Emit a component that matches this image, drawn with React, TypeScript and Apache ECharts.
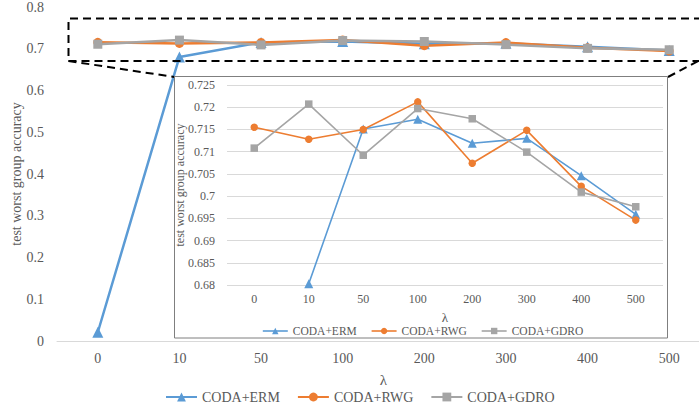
import React, { useEffect, useRef } from "react";
import * as echarts from "echarts";

const categories = ["0", "10", "50", "100", "200", "300", "400", "500"];
const seriesNames = ["CODA+ERM", "CODA+RWG", "CODA+GDRO"];
const ermValues = [0.021, 0.6803, 0.7151, 0.7173, 0.7119, 0.713, 0.7046, 0.6959];
const rwgValues = [0.7155, 0.7128, 0.715, 0.7212, 0.7074, 0.7148, 0.7022, 0.6946];
const gdroValues = [0.7108, 0.7207, 0.7092, 0.7197, 0.7174, 0.7099, 0.7009, 0.6976];
const mainYMin = 0;
const mainYMax = 0.8;
const mainYStep = 0.1;
const insetYMin = 0.68;
const insetYMax = 0.725;
const insetYStep = 0.005;

const colors = ["#5B9BD5", "#ED7D31", "#A5A5A5"];
const symbols = ["triangle", "circle", "rect"];
const FONT = "Liberation Serif";
const TXT = "#595959";

export default function App() {
  const ref = useRef<HTMLDivElement>(null);
  useEffect(() => {
    if (!ref.current) return;
    const chart = echarts.init(ref.current, undefined, { renderer: "svg" });
    const allValues = [ermValues, rwgValues, gdroValues];
    const mainSeries = allValues.map((vals, i) => ({
      name: seriesNames[i],
      type: "line",
      xAxisIndex: 0,
      yAxisIndex: 0,
      data: vals,
      symbol: symbols[i],
      symbolSize: i === 0 ? 11 : 9,
      lineStyle: { width: 2.5, color: colors[i] },
      itemStyle: { color: colors[i] },
      z: 2,
    }));
    const insetSeries = allValues.map((vals, i) => ({
      name: seriesNames[i],
      type: "line",
      xAxisIndex: 1,
      yAxisIndex: 1,
      data: vals.map((v) => (v < insetYMin ? null : v)),
      symbol: symbols[i],
      symbolSize: i === 0 ? 9 : 7.5,
      lineStyle: { width: 1.6, color: colors[i] },
      itemStyle: { color: colors[i] },
      z: 21,
    }));
    chart.setOption({
      animation: false,
      backgroundColor: "#fff",
      color: colors,
      textStyle: { fontFamily: FONT },
      grid: [
        { left: 57, top: 7, right: -11, height: 334, outerBoundsMode: "none", containLabel: false },
        { left: 227, top: 85, width: 436, height: 200, z: 20, outerBoundsMode: "none", containLabel: false },
      ],
      xAxis: [
        {
          type: "category",
          gridIndex: 0,
          data: categories,
          boundaryGap: true,
          axisLine: { show: true, lineStyle: { color: "#d9d9d9", width: 1 } },
          axisTick: { show: false },
          axisLabel: { color: TXT, fontFamily: FONT, fontSize: 14, margin: 10 },
          name: "λ",
          nameLocation: "middle",
          nameGap: 31,
          nameMoveOverlap: false,
          nameTextStyle: { color: TXT, fontFamily: FONT, fontSize: 15 },
        },
        {
          type: "category",
          gridIndex: 1,
          data: categories,
          boundaryGap: true,
          axisLine: { show: false },
          axisTick: { show: false },
          axisLabel: { color: TXT, fontFamily: FONT, fontSize: 12, margin: 8 },
          name: "λ",
          nameLocation: "middle",
          nameGap: 26,
          nameMoveOverlap: false,
          nameTextStyle: { color: TXT, fontFamily: FONT, fontSize: 13 },
          z: 20,
        },
      ],
      yAxis: [
        {
          type: "value",
          gridIndex: 0,
          min: mainYMin,
          max: mainYMax,
          interval: mainYStep,
          axisLine: { show: false },
          axisTick: { show: false },
          splitLine: { show: false },
          axisLabel: { color: TXT, fontFamily: FONT, fontSize: 14, margin: 13 },
          name: "test worst group accuracy",
          nameLocation: "middle",
          nameGap: 34,
          nameMoveOverlap: false,
          nameTextStyle: { color: TXT, fontFamily: FONT, fontSize: 14 },
        },
        {
          type: "value",
          gridIndex: 1,
          min: insetYMin,
          max: insetYMax,
          interval: insetYStep,
          axisLine: { show: false },
          axisTick: { show: false },
          splitLine: { show: true, lineStyle: { color: "#d9d9d9", width: 1 } },
          axisLabel: { color: TXT, fontFamily: FONT, fontSize: 12, margin: 12 },
          name: "test worst group accuracy",
          nameLocation: "middle",
          nameGap: 41,
          nameMoveOverlap: false,
          nameTextStyle: { color: TXT, fontFamily: FONT, fontSize: 12 },
          z: 20,
        },
      ],
      legend: [
        {
          data: seriesNames,
          left: 165,
          top: 390,
          padding: 0,
          itemWidth: 31,
          itemHeight: 11,
          itemGap: 17,
          textStyle: { color: TXT, fontFamily: FONT, fontSize: 14 },
          selectedMode: false,
        },
        {
          data: seriesNames,
          left: 262,
          top: 325,
          padding: 0,
          itemWidth: 25,
          itemHeight: 8,
          itemGap: 14,
          textStyle: { color: TXT, fontFamily: FONT, fontSize: 11.5 },
          lineStyle: { width: 1.6 },
          selectedMode: false,
          z: 22,
        },
      ],
      graphic: [
        {
          type: "rect",
          z: 15,
          shape: { x: 174.5, y: 76.5, width: 493, height: 261.5 },
          style: { fill: "#fff", stroke: "#7f7f7f", lineWidth: 1 },
        },
        {
          type: "polyline",
          z: 10,
          shape: { points: [[702, 18.5], [68.5, 18.5], [68.5, 61], [702, 61]] },
          style: { fill: null, stroke: "#000", lineWidth: 2, lineDash: [8, 5] },
        },
        {
          type: "line",
          z: 10,
          shape: { x1: 68.5, y1: 61, x2: 174.5, y2: 77 },
          style: { stroke: "#000", lineWidth: 2, lineDash: [8, 5] },
        },
        {
          type: "line",
          z: 10,
          shape: { x1: 668, y1: 77, x2: 700, y2: 60 },
          style: { stroke: "#000", lineWidth: 2, lineDash: [8, 5] },
        },
      ],
      series: [...mainSeries, ...insetSeries],
    });
    return () => chart.dispose();
  }, []);
  return (
    <div
      ref={ref}
      style={{ position: "fixed", left: 0, top: 0, width: 699, height: 408, background: "#fff" }}
    />
  );
}
